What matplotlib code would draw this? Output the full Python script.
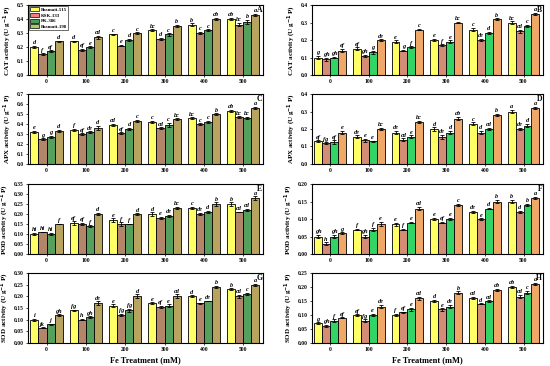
import numpy as np
import matplotlib
matplotlib.use("Agg")
import matplotlib.pyplot as plt

plt.rcParams['font.family'] = ['Liberation Serif', 'DejaVu Serif']
plt.rcParams['font.weight'] = 'bold'
plt.rcParams['mathtext.default'] = 'bf'

# treatments and cultivars
fe_levels = ['0', '100', '200', '300', '400', '500']
cultivars = ['Basmati-515', 'KSK-133', 'PK-386', 'Basmati-198']

# values per treatment group: [Basmati-515, KSK-133, PK-386, Basmati-198]
cat_a = [[0.20, 0.15, 0.17, 0.24], [0.24, 0.18, 0.20, 0.27], [0.29, 0.21, 0.25, 0.30],
         [0.32, 0.26, 0.29, 0.35], [0.36, 0.30, 0.32, 0.40], [0.40, 0.36, 0.38, 0.43]]
cat_a_err = [[0.008, 0.006, 0.007, 0.006], [0.006, 0.006, 0.005, 0.010], [0.006, 0.005, 0.008, 0.006],
             [0.007, 0.006, 0.008, 0.007], [0.010, 0.008, 0.006, 0.007], [0.008, 0.012, 0.014, 0.010]]
cat_a_let = [['d', 'f', 'ef', 'd'], ['d', 'ef', 'e', 'cd'], ['c', 'e', 'd', 'c'],
             ['bc', 'd', 'c', 'b'], ['b', 'c', 'c', 'ab'], ['ab', 'bc', 'b', 'a']]

cat_b = [[0.10, 0.09, 0.10, 0.14], [0.15, 0.11, 0.13, 0.20], [0.19, 0.14, 0.16, 0.26],
         [0.20, 0.17, 0.19, 0.30], [0.26, 0.20, 0.24, 0.32], [0.30, 0.25, 0.28, 0.35]]
cat_b_err = [[0.008, 0.008, 0.004, 0.008], [0.008, 0.004, 0.008, 0.004], [0.008, 0.005, 0.004, 0.005],
             [0.006, 0.006, 0.008, 0.005], [0.008, 0.006, 0.006, 0.005], [0.008, 0.008, 0.008, 0.007]]
cat_b_let = [['g', 'gh', 'gh', 'ef'], ['ef', 'gh', 'g', 'de'], ['e', 'g', 'f', 'c'],
             ['e', 'f', 'e', 'bc'], ['c', 'de', 'd', 'b'], ['bc', 'cd', 'c', 'a']]

apx_a = [[0.32, 0.25, 0.27, 0.33], [0.34, 0.30, 0.32, 0.36], [0.39, 0.31, 0.35, 0.43],
         [0.42, 0.36, 0.39, 0.45], [0.46, 0.40, 0.42, 0.50], [0.53, 0.47, 0.46, 0.56]]
apx_a_err = [[0.012, 0.006, 0.010, 0.012], [0.010, 0.008, 0.006, 0.020], [0.010, 0.008, 0.012, 0.010],
             [0.010, 0.008, 0.020, 0.008], [0.008, 0.006, 0.010, 0.006], [0.010, 0.008, 0.012, 0.012]]
apx_a_let = [['e', 'g', 'g', 'd'], ['f', 'ef', 'de', 'd'], ['cd', 'ef', 'd', 'c'],
             ['c', 'cd', 'c', 'bc'], ['bc', 'c', 'c', 'b'], ['ab', 'bc', 'bc', 'a']]

apx_b = [[0.13, 0.12, 0.125, 0.18], [0.155, 0.135, 0.13, 0.20], [0.18, 0.14, 0.155, 0.24],
         [0.20, 0.155, 0.18, 0.26], [0.23, 0.18, 0.20, 0.28], [0.30, 0.20, 0.22, 0.32]]
apx_b_err = [[0.006, 0.004, 0.010, 0.010], [0.008, 0.010, 0.004, 0.006], [0.008, 0.006, 0.008, 0.008],
             [0.010, 0.012, 0.010, 0.010], [0.008, 0.010, 0.006, 0.006], [0.008, 0.006, 0.008, 0.008]]
apx_b_let = [['ef', 'fg', 'ef', 'e'], ['de', 'e', 'e', 'bc'], ['de', 'cd', 'e', 'bc'],
             ['d', 'de', 'd', 'ab'], ['c', 'd', 'cd', 'b'], ['a', 'de', 'd', 'a']]

pod_a = [[0.10, 0.11, 0.10, 0.15], [0.155, 0.15, 0.14, 0.20], [0.17, 0.15, 0.15, 0.20],
         [0.20, 0.18, 0.19, 0.23], [0.23, 0.20, 0.21, 0.25], [0.25, 0.21, 0.22, 0.28]]
pod_a_err = [[0.006, 0.002, 0.006, 0.002], [0.008, 0.006, 0.004, 0.006], [0.008, 0.008, 0.002, 0.004],
             [0.008, 0.006, 0.006, 0.006], [0.006, 0.006, 0.006, 0.008], [0.008, 0.002, 0.006, 0.008]]
pod_a_let = [['hi', 'hi', 'hi', 'f'], ['ef', 'ef', 'f', 'd'], ['e', 'f', 'f', 'd'],
             ['d', 'e', 'de', 'bc'], ['c', 'de', 'd', 'b'], ['b', 'cd', 'cd', 'a']]

pod_b = [[0.05, 0.03, 0.05, 0.06], [0.07, 0.05, 0.07, 0.085], [0.085, 0.07, 0.09, 0.13],
         [0.10, 0.09, 0.10, 0.14], [0.12, 0.10, 0.13, 0.15], [0.15, 0.12, 0.14, 0.16]]
pod_b_err = [[0.004, 0.003, 0.004, 0.002], [0.002, 0.004, 0.004, 0.006], [0.004, 0.002, 0.002, 0.004],
             [0.004, 0.002, 0.004, 0.004], [0.004, 0.002, 0.002, 0.004], [0.004, 0.004, 0.004, 0.004]]
pod_b_let = [['gh', 'h', 'gh', 'g'], ['f', 'gh', 'f', 'e'], ['e', 'f', 'e', 'cd'],
             ['e', 'ef', 'e', 'c'], ['de', 'e', 'd', 'b'], ['b', 'd', 'b', 'a']]

sod_a = [[0.10, 0.065, 0.08, 0.12], [0.14, 0.10, 0.11, 0.17], [0.16, 0.12, 0.14, 0.20],
         [0.17, 0.155, 0.16, 0.20], [0.20, 0.17, 0.18, 0.24], [0.23, 0.20, 0.21, 0.25]]
sod_a_err = [[0.004, 0.002, 0.003, 0.003], [0.002, 0.002, 0.004, 0.008], [0.006, 0.004, 0.006, 0.008],
             [0.004, 0.004, 0.006, 0.008], [0.004, 0.002, 0.002, 0.004], [0.004, 0.006, 0.006, 0.004]]
sod_a_let = [['i', 'jk', 'j', 'gh'], ['fg', 'h', 'gh', 'de'], ['e', 'fg', 'fg', 'd'],
             ['e', 'ef', 'e', 'cd'], ['d', 'e', 'de', 'b'], ['b', 'cd', 'c', 'a']]

sod_b = [[0.07, 0.06, 0.08, 0.09], [0.10, 0.08, 0.10, 0.13], [0.10, 0.11, 0.12, 0.16],
         [0.15, 0.12, 0.13, 0.18], [0.16, 0.14, 0.15, 0.19], [0.20, 0.165, 0.18, 0.21]]
sod_b_err = [[0.004, 0.004, 0.004, 0.002], [0.002, 0.004, 0.004, 0.006], [0.004, 0.002, 0.006, 0.006],
             [0.004, 0.004, 0.006, 0.004], [0.004, 0.002, 0.002, 0.004], [0.004, 0.006, 0.006, 0.004]]
sod_b_let = [['g', 'gh', 'f', 'ef'], ['ef', 'fg', 'e', 'de'], ['f', 'ef', 'e', 'cd'],
             ['d', 'e', 'de', 'b'], ['cd', 'd', 'cd', 'ab'], ['ab', 'cd', 'c', 'a']]

left_colors = ['#FFFF66', '#B3866A', '#55A05C', '#B8A45E']
right_colors = ['#FFFF66', '#D48C76', '#33D466', '#F0A868']
legend_colors = ['#FFFF66', '#F08080', '#4E9A58', '#A8CC66']

panels = [
    ('CAT', cat_a, cat_a_err, cat_a_let, 0.5, 0.1, '%.1f', 'A'),
    ('CAT', cat_b, cat_b_err, cat_b_let, 0.4, 0.1, '%.1f', 'B'),
    ('APX', apx_a, apx_a_err, apx_a_let, 0.7, 0.1, '%.1f', 'C'),
    ('APX', apx_b, apx_b_err, apx_b_let, 0.4, 0.1, '%.1f', 'D'),
    ('POD', pod_a, pod_a_err, pod_a_let, 0.35, 0.05, '%.2f', 'E'),
    ('POD', pod_b, pod_b_err, pod_b_let, 0.20, 0.05, '%.2f', 'F'),
    ('SOD', sod_a, sod_a_err, sod_a_let, 0.30, 0.05, '%.2f', 'G'),
    ('SOD', sod_b, sod_b_err, sod_b_let, 0.25, 0.05, '%.2f', 'H'),
]

fig = plt.figure(figsize=(5.5, 3.66), dpi=100)

col_x = [(0.051, 0.427), (0.567, 0.420)]
row_y = [0.795, 0.552, 0.306, 0.063]
row_h = 0.191

x = np.arange(len(fe_levels))
w = 0.205

for i, (name, vals, errs, lets, ymax, step, fmt, tag) in enumerate(panels):
    r, c = divmod(i, 2)
    ax = fig.add_axes([col_x[c][0], row_y[r], col_x[c][1], row_h])
    vals = np.array(vals)
    errs = np.array(errs)
    colors = left_colors if c == 0 else right_colors
    for k in range(4):
        xs = x + (k - 1.5) * w
        ax.bar(xs, vals[:, k], w, color=colors[k], edgecolor='black', linewidth=0.6,
               yerr=errs[:, k], error_kw=dict(ecolor='black', elinewidth=0.6, capsize=1.2, capthick=0.6),
               label=cultivars[k])
        for j in range(len(x)):
            ax.text(xs[j], vals[j, k] + errs[j, k] + ymax * 0.01, lets[j][k],
                    ha='center', va='bottom', fontsize=4.5, style='italic', fontweight='bold')
    ax.set_xlim(-0.47, 5.5)
    ax.set_ylim(0, ymax)
    ax.set_yticks(np.arange(0, ymax + step / 2, step))
    ax.yaxis.set_major_formatter(matplotlib.ticker.FormatStrFormatter(fmt))
    ax.set_xticks(x)
    ax.set_xticklabels(fe_levels)
    ax.tick_params(labelsize=4, length=1.5, width=0.5, pad=1.5)
    for sp in ax.spines.values():
        sp.set_linewidth(0.8)
    ax.set_ylabel(name + r' activity (U g$^{-1}$ P)', fontsize=5, fontweight='bold', labelpad=2)
    ax.text(0.997, 0.985, tag, transform=ax.transAxes, ha='right', va='top',
            fontsize=5.5, fontweight='bold')
    if r == 3:
        ax.set_xlabel('Fe Treatment (mM)', fontsize=6, fontweight='bold', labelpad=3)
    if i == 0:
        handles = [plt.Rectangle((0, 0), 1, 1, facecolor=col, edgecolor='black', linewidth=0.5)
                   for col in legend_colors]
        leg = ax.legend(handles, cultivars, loc='upper left', fontsize=3.5, frameon=True, fancybox=False,
                        edgecolor='black', handlelength=1.8, handleheight=0.9, borderpad=0.25,
                        labelspacing=0.2, handletextpad=0.4, borderaxespad=0.2)
        leg.get_frame().set_linewidth(0.5)

fig.savefig('out.png', dpi=100)
